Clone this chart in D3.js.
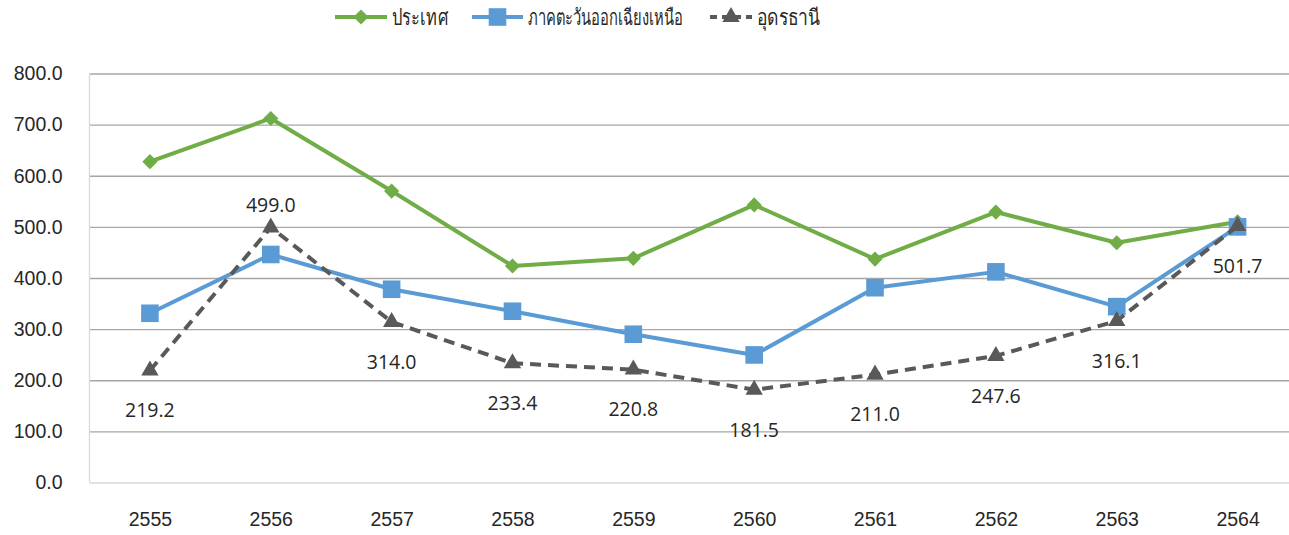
<!DOCTYPE html>
<html>
<head>
<meta charset="utf-8">
<script src="https://cdn.jsdelivr.net/npm/d3@7"></script>
<style>
  body { margin: 0; background: #fff; }
  svg { display: block; font-family: "Open Sans", "Noto Sans", "DejaVu Sans", sans-serif; }
</style>
</head>
<body>
<div id="chart"></div>
<script>
// years (Buddhist era)
var years = ["2555", "2556", "2557", "2558", "2559", "2560", "2561", "2562", "2563", "2564"];
var seriesNames = ["ประเทศ", "ภาคตะวันออกเฉียงเหนือ", "อุดรธานี"];
var country = [627.5, 712, 570, 423.5, 438.5, 543, 437, 529, 469, 510];
var northeast = [331, 446, 378, 335, 290, 249.5, 381, 412, 344, 500];
var udon = [219.2, 499.0, 314.0, 233.4, 220.8, 181.5, 211.0, 247.6, 316.1, 501.7];
var yTicks = [0, 100, 200, 300, 400, 500, 600, 700, 800];

(function () {
  // set the dimensions
  var W = 1289, H = 535;
  var pLeft = 89.5, pRight = 1298, pTop = 73.5, pBottom = 482.5;

  var x = d3.scalePoint().domain(years).range([pLeft, pRight]).padding(0.5);
  var y = d3.scaleLinear().domain([0, 800]).range([pBottom, pTop]);

  var svg = d3.select("#chart").append("svg")
    .attr("width", W)
    .attr("height", H);

  // gridlines + y labels
  var yAxis = svg.append("g")
    .attr("transform", "translate(" + pLeft + ",0)")
    .call(d3.axisLeft(y).tickValues(yTicks).tickSize(-(pRight - pLeft)).tickPadding(27)
      .tickFormat(d3.format(".1f")));
  yAxis.select(".domain").remove();
  yAxis.selectAll(".tick line")
    .attr("stroke", function (d) { return d === 0 ? "#d9d9d9" : "#a6a6a6"; })
    .attr("stroke-width", 1.3);
  yAxis.selectAll(".tick text")
    .attr("font-size", "19.5px")
    .attr("fill", "#262626");

  // left axis line
  svg.append("line")
    .attr("x1", pLeft).attr("x2", pLeft)
    .attr("y1", pTop).attr("y2", pBottom)
    .attr("stroke", "#d9d9d9").attr("stroke-width", 1.3);

  // x labels
  var xAxis = svg.append("g")
    .attr("transform", "translate(0," + pBottom + ")")
    .call(d3.axisBottom(x).tickSize(0).tickPadding(30));
  xAxis.select(".domain").remove();
  xAxis.selectAll(".tick text")
    .attr("font-size", "19.5px")
    .attr("fill", "#262626");

  var series = [
    { name: seriesNames[0], values: country, color: "#70ad47", dash: null, shape: "diamond" },
    { name: seriesNames[1], values: northeast, color: "#5b9bd5", dash: null, shape: "square" },
    { name: seriesNames[2], values: udon, color: "#595959", dash: "11,7", shape: "triangle" }
  ];

  function symbolPath(shape) {
    if (shape === "diamond") return d3.symbol(d3.symbolSquare, 115)();
    if (shape === "square") return d3.symbol(d3.symbolSquare, 310)();
    return d3.symbol(d3.symbolTriangle, 130)();
  }

  var line = d3.line()
    .x(function (d, i) { return x(years[i]); })
    .y(function (d) { return y(d); });

  series.forEach(function (s) {
    svg.append("path")
      .datum(s.values)
      .attr("d", line)
      .attr("fill", "none")
      .attr("stroke", s.color)
      .attr("stroke-width", 4)
      .attr("stroke-linejoin", "round")
      .attr("stroke-dasharray", s.dash);

    svg.selectAll(".m-" + s.shape)
      .data(s.values)
      .enter().append("path")
      .attr("class", "m-" + s.shape)
      .attr("d", symbolPath(s.shape))
      .attr("fill", s.color)
      .attr("transform", function (d, i) {
        var t = "translate(" + x(years[i]) + "," + y(d) + ")";
        return s.shape === "diamond" ? t + " rotate(45)" : t;
      });
  });

  // data labels for อุดรธานี
  svg.selectAll(".dlabel")
    .data(udon)
    .enter().append("text")
    .attr("class", "dlabel")
    .attr("x", function (d, i) { return x(years[i]); })
    .attr("y", function (d, i) { return y(d) + (i === 1 ? -22 : 40); })
    .attr("dy", "0.35em")
    .attr("text-anchor", "middle")
    .attr("font-size", "19.5px")
    .attr("fill", "#262626")
    .text(function (d) { return d3.format(".1f")(d); });

  // legend
  var legendX = [335, 472, 710];
  var legendW = [52, 51, 42];
  var legend = svg.selectAll(".legend")
    .data(series)
    .enter().append("g")
    .attr("class", "legend")
    .attr("transform", function (d, i) { return "translate(" + legendX[i] + ",17)"; });

  legend.append("line")
    .attr("x1", 0).attr("x2", function (d, i) { return legendW[i]; })
    .attr("stroke", function (d) { return d.color; })
    .attr("stroke-width", 4)
    .attr("stroke-dasharray", function (d) { return d.dash ? "7,5" : null; });

  legend.append("path")
    .attr("d", function (d) { return symbolPath(d.shape); })
    .attr("fill", function (d) { return d.color; })
    .attr("transform", function (d, i) {
      var t = "translate(" + legendW[i] / 2 + ",0)";
      return d.shape === "diamond" ? t + " rotate(45)" : t;
    });

  legend.append("text")
    .attr("x", function (d, i) { return legendW[i] + 5; })
    .attr("dy", "0.35em")
    .attr("font-size", "22px")
    .attr("fill", "#262626")
    .attr("textLength", function (d, i) { return [56, 155, 63][i]; })
    .attr("lengthAdjust", "spacingAndGlyphs")
    .text(function (d) { return d.name; });
})();
</script>
</body>
</html>
